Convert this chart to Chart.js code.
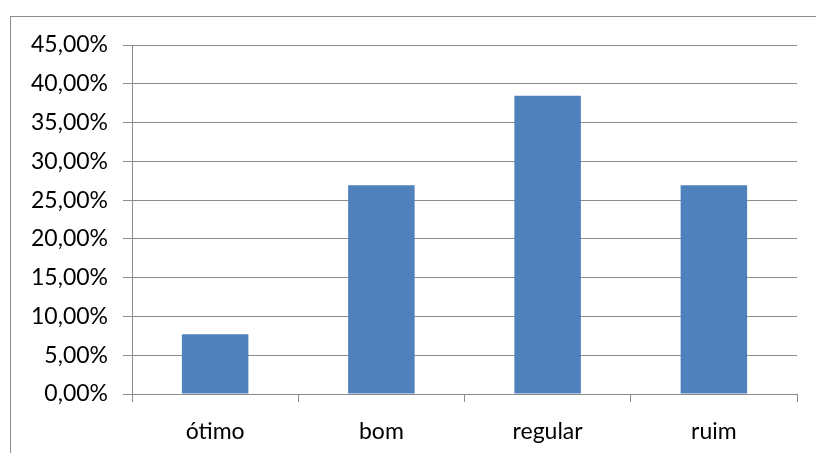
<!DOCTYPE html>
<html>
<head>
<meta charset="utf-8">
<script src="https://cdn.jsdelivr.net/npm/chart.js@4/dist/chart.umd.min.js"></script>
<style>
  html, body { margin: 0; padding: 0; background: #fff; }
  #wrap { position: relative; width: 816px; height: 453px; overflow: hidden; }
  #moldura { position: absolute; left: 10px; top: 16px; width: 900px; height: 600px;
             border-left: 1px solid #8c8c8c; border-top: 1px solid #8c8c8c; }
  canvas { position: absolute; left: 0; top: 0; }
</style>
</head>
<body>
<div id="wrap">
  <div id="moldura"></div>
  <canvas id="grafico" width="816" height="453"></canvas>
</div>
<script>
// dados (percentual)
const categorias = ['ótimo', 'bom', 'regular', 'ruim'];
const valores = [7.69, 26.92, 38.46, 26.92];
const eixoMin = 0;
const eixoMax = 45;
const eixoPasso = 5;

const corBarra = '#4F81BD';
const corLinha = '#8c8c8c';
const fonte = { family: 'Lato', size: 23 };

function formatarPct(v) {
    return v.toFixed(2).replace('.', ',') + '%';
}

new Chart(document.getElementById('grafico'), {
    type: 'bar',
    data: {
        labels: categorias,
        datasets: [{
            data: valores,
            backgroundColor: corBarra,
            borderWidth: 0,
            categoryPercentage: 0.8,
            barPercentage: 0.5
        }]
    },
    options: {
        responsive: false,
        animation: false,
        layout: { padding: { top: 45, right: 19, bottom: 0, left: 0 } },
        plugins: { legend: { display: false }, tooltip: { enabled: false } },
        scales: {
            y: {
                min: eixoMin,
                max: eixoMax,
                ticks: {
                    stepSize: eixoPasso,
                    color: '#000',
                    font: fonte,
                    padding: 15,
                    callback: (v) => formatarPct(v)
                },
                grid: { color: corLinha, lineWidth: 1, tickLength: 9 },
                border: { color: corLinha, width: 1 },
                afterFit: (scale) => { scale.width = 132; }
            },
            x: {
                ticks: { color: '#000', font: fonte, padding: 16 },
                grid: { drawOnChartArea: false, color: corLinha, tickLength: 8, offset: true },
                border: { color: corLinha, width: 1 },
                afterFit: (scale) => { scale.height = 59; }
            }
        }
    }
});
</script>
</body>
</html>
